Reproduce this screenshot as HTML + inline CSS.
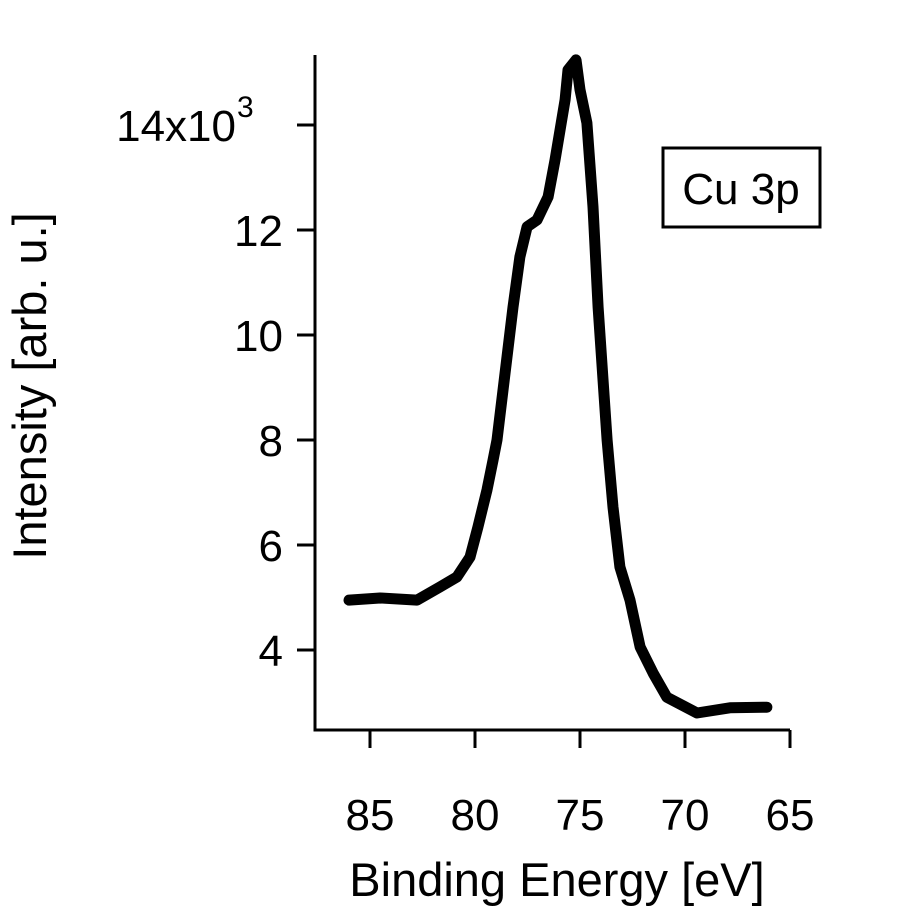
<!DOCTYPE html>
<html><head><meta charset="utf-8"><style>
html,body{margin:0;padding:0;background:#fff;}
svg text{font-family:"Liberation Sans",Arial,sans-serif;fill:#000;}
</style></head><body>
<svg id="chart" width="906" height="906" viewBox="0 0 906 906" xmlns="http://www.w3.org/2000/svg">
<g id="axes"></g>
<path id="series" fill="none" stroke="#000" stroke-width="11" stroke-linejoin="round" stroke-linecap="round"/>
<g>
<rect x="663" y="148" width="157" height="79" fill="#fff" stroke="#000" stroke-width="3"/>
<text x="741" y="204" font-size="44" text-anchor="middle">Cu 3p</text>
</g>
<text x="557" y="896" font-size="47" text-anchor="middle">Binding Energy [eV]</text>
<text transform="translate(46,386) rotate(-90)" font-size="47" text-anchor="middle">Intensity [arb. u.]</text>
</svg>
<script>
const energies=[86.0,84.52,82.76,81.67,80.86,80.24,79.86,79.43,79.14,78.95,78.19,77.86,77.52,77.05,76.52,76.19,75.71,75.57,75.19,75.0,74.67,74.38,74.14,73.71,73.43,73.10,72.62,72.14,71.52,70.86,69.43,67.86,66.10];
const intensity=[4.95,4.99,4.95,5.20,5.39,5.77,6.34,7.05,7.62,8.0,10.53,11.49,12.06,12.19,12.63,13.33,14.48,15.05,15.24,14.67,14.04,12.44,10.53,8.0,6.72,5.58,4.95,4.06,3.56,3.10,2.80,2.90,2.91];
const xTicks=[85,80,75,70,65];
const yTicks=[4,6,8,10,12,14];
const ns="http://www.w3.org/2000/svg";
function xs(e){return 370+(85-e)*21;}
function ys(v){return 650-(v-4)*52.5;}
const ax=document.getElementById('axes');
function mk(t,a){const el=document.createElementNS(ns,t);for(const k in a)el.setAttribute(k,a[k]);ax.appendChild(el);return el;}
const yl=mk('line',{x1:315,y1:55,x2:315,y2:731.5,stroke:'#000','stroke-width':3});


const xl=mk('line',{x1:313.5,y1:730,x2:790,y2:730,stroke:'#000','stroke-width':3});


xTicks.forEach(t=>{
 const x=xs(t);
 const l=mk('line',{x1:x,y1:730,x2:x,y2:748,stroke:'#000','stroke-width':3});
 
 
 const tx=mk('text',{x:x,y:830,'font-size':44,'text-anchor':'middle'});
 tx.textContent=t;
 
 
});
yTicks.forEach(t=>{
 const y=ys(t);
 const l=mk('line',{x1:297,y1:y,x2:315,y2:y,stroke:'#000','stroke-width':3});
 
 
 const tx=mk('text',{x:283,y:y+16,'font-size':44,'text-anchor':'end'});
 tx.textContent=t===14?'14x10':t;
 
 
 if(t===14){tx.setAttribute('x',236);const s=mk('text',{x:237,y:y-8,'font-size':30});s.textContent='3';
 
 }
});
let d='';
energies.forEach((e,i)=>{d+=(i?'L':'M')+xs(e).toFixed(1)+','+ys(intensity[i]).toFixed(1);});
document.getElementById('series').setAttribute('d',d);
</script>
</body></html>
